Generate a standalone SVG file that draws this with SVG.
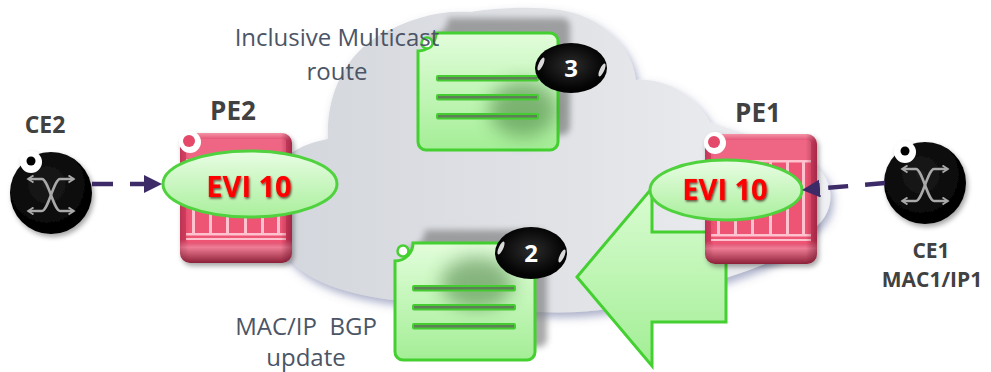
<svg xmlns="http://www.w3.org/2000/svg" xmlns:xlink="http://www.w3.org/1999/xlink" width="991" height="372" viewBox="0 0 991 372">
  <style>
    .lbl { font-family: "Open Sans", "Noto Sans", "Liberation Sans", sans-serif; font-weight: 700; fill: #414141; text-anchor: middle; }
    .cap { font-family: "Open Sans", "Noto Sans", "Liberation Sans", sans-serif; font-weight: 400; fill: #4b5566; text-anchor: middle; font-size: 24px; }
    .evi { font-family: "Open Sans", "Noto Sans", "Liberation Sans", sans-serif; font-weight: 700; fill: #ff0000; text-anchor: middle; font-size: 29px; }
    .num { font-family: "Open Sans", "Noto Sans", "Liberation Sans", sans-serif; font-weight: 700; fill: #ffffff; text-anchor: middle; font-size: 24px; }
    .evi-shape { fill: url(#eviFill); stroke: #4fd23d; stroke-width: 3; }
    .doc-line { fill: #5e7f58; stroke: #44cc30; stroke-width: 2; }
    .link { fill: none; stroke: #3d2b68; stroke-width: 4.5; }
    .glyph { fill: none; stroke: #a9a9a9; stroke-width: 2.6; stroke-linecap: round; stroke-linejoin: round; }
  </style>
  <defs>
    <linearGradient id="cloudFill" x1="0" y1="0" x2="1" y2="0">
      <stop offset="0" stop-color="#d3d6dc"/>
      <stop offset="0.55" stop-color="#e1e3e7"/>
      <stop offset="1" stop-color="#eff0f3"/>
    </linearGradient>
    <linearGradient id="eviFill" x1="0" y1="0" x2="0" y2="1">
      <stop offset="0" stop-color="#e9fde4"/>
      <stop offset="1" stop-color="#a9ef9c"/>
    </linearGradient>
    <linearGradient id="docFill" x1="0" y1="0" x2="0" y2="1">
      <stop offset="0" stop-color="#e2fddb"/>
      <stop offset="1" stop-color="#a4ee96"/>
    </linearGradient>
    <linearGradient id="bigArrowFill" x1="0" y1="0" x2="0" y2="1">
      <stop offset="0" stop-color="#dafcd2"/>
      <stop offset="1" stop-color="#a2ee95"/>
    </linearGradient>
    <linearGradient id="pinkBody" x1="0" y1="0" x2="0" y2="1">
      <stop offset="0" stop-color="#f493a6"/>
      <stop offset="0.06" stop-color="#e0446a"/>
      <stop offset="0.82" stop-color="#d83e60"/>
      <stop offset="0.88" stop-color="#ef7c95"/>
      <stop offset="1" stop-color="#8c2038"/>
    </linearGradient>
    <linearGradient id="pinkSide" x1="0" y1="0" x2="1" y2="0">
      <stop offset="0" stop-color="#6a1028" stop-opacity="0.25"/>
      <stop offset="0.08" stop-color="#6a1028" stop-opacity="0"/>
      <stop offset="0.9" stop-color="#6a1028" stop-opacity="0"/>
      <stop offset="1" stop-color="#6a1028" stop-opacity="0.5"/>
    </linearGradient>
    <radialGradient id="badgeFill" cx="0.5" cy="0.45" r="0.6">
      <stop offset="0" stop-color="#2c2c2c"/>
      <stop offset="0.75" stop-color="#050505"/>
      <stop offset="1" stop-color="#000"/>
    </radialGradient>
    <radialGradient id="ceFill" cx="0.45" cy="0.4" r="0.6">
      <stop offset="0" stop-color="#1c1c1c"/>
      <stop offset="1" stop-color="#000"/>
    </radialGradient>

    <filter id="dropShadow" x="-20%" y="-20%" width="150%" height="150%">
      <feDropShadow dx="2" dy="3" stdDeviation="2.5" flood-color="#000" flood-opacity="0.35"/>
    </filter>
    <filter id="cloudShadow" x="-10%" y="-10%" width="125%" height="130%">
      <feDropShadow dx="3" dy="5" stdDeviation="4" flood-color="#5a6496" flood-opacity="0.5"/>
    </filter>
    <filter id="textShadow" x="-10%" y="-20%" width="130%" height="150%">
      <feDropShadow dx="1" dy="1.5" stdDeviation="0.8" flood-color="#300" flood-opacity="0.7"/>
    </filter>
    <filter id="soft3" x="-20%" y="-20%" width="140%" height="140%">
      <feGaussianBlur stdDeviation="3"/>
    </filter>
    <filter id="soft8" x="-50%" y="-50%" width="200%" height="200%">
      <feGaussianBlur stdDeviation="9"/>
    </filter>

    <marker id="arrowHead" viewBox="0 0 10 10" refX="0" refY="5" markerWidth="18" markerHeight="18" markerUnits="userSpaceOnUse" orient="auto">
      <path d="M0,0 L10,5 L0,10 Z" fill="#3d2b68"/>
    </marker>
    <marker id="chev" viewBox="0 0 10 10" refX="6" refY="5" markerWidth="9" markerHeight="9" markerUnits="userSpaceOnUse" orient="auto-start-reverse">
      <path d="M1,1 L7,5 L1,9" fill="none" stroke="#a9a9a9" stroke-width="2"/>
    </marker>

    <!-- route document sheet with a scooped top-left corner -->
    <path id="docPath" d="M0,18 A18,18 0 0 0 18,0 H132 A8,8 0 0 1 140,8 V109 A8,8 0 0 1 132,117 H8 A8,8 0 0 1 0,109 Z"/>

    <!-- provider edge router body -->
    <g id="peBody">
      <rect x="0" y="0" width="112" height="130" rx="10" fill="url(#pinkBody)"/>
      <rect x="6" y="6" width="100" height="104" rx="3" fill="#ee5474"/>
      <rect x="6" y="6" width="100" height="21" rx="3" fill="#ee6683"/>
      <rect x="6" y="26" width="100" height="2.5" fill="#ffc2ce"/>
      <g fill="#ffc2ce">
        <rect x="12" y="28" width="3" height="72"/>
        <rect x="29" y="28" width="3" height="72"/>
        <rect x="46" y="28" width="3" height="72"/>
        <rect x="64" y="28" width="3" height="72"/>
        <rect x="81" y="28" width="3" height="72"/>
        <rect x="97" y="28" width="3" height="72"/>
        <rect x="6" y="100" width="100" height="2.5"/>
        <rect x="6" y="105" width="100" height="2"/>
      </g>
      <rect x="0" y="0" width="112" height="130" rx="10" fill="url(#pinkSide)"/>
      <circle cx="10" cy="9" r="11" fill="#ffffff"/>
      <circle cx="9" cy="8" r="6" fill="#e4486a"/>
    </g>

    <!-- customer edge switch -->
    <g id="ceBody">
      <circle cx="0" cy="0" r="41" fill="url(#ceFill)"/>
      <path class="glyph" d="M-22,-14 H-9 C-3,-14 3,18 9,18 H22" marker-start="url(#chev)" marker-end="url(#chev)"/>
      <path class="glyph" d="M22,-14 H9 C3,-14 -3,18 -9,18 H-22" marker-start="url(#chev)" marker-end="url(#chev)"/>
      <circle cx="-20" cy="-31" r="11" fill="#ffffff"/>
      <circle cx="-20" cy="-32" r="4.5" fill="#000"/>
    </g>
  </defs>

  <rect width="991" height="372" fill="#ffffff"/>

  <!-- provider network cloud -->
  <g id="cloud">
    <path filter="url(#cloudShadow)" fill="url(#cloudFill)" d="M292,262 C262,240 262,170 296,150 C306,144 318,141 328,139 C326,95 345,55 380,35 C410,18 440,10 470,12 C500,8 530,6 560,10 C600,16 632,45 636,80 C665,78 695,95 710,122 C760,140 800,150 820,170 C838,190 832,220 808,232 C790,262 740,272 700,287 C660,302 600,315 540,312 C480,314 420,305 393,300 C350,295 310,282 292,262 Z"/>
  </g>

  <!-- inclusive multicast route sheet -->
  <g id="doc-3" transform="translate(418,33)">
    <use xlink:href="#docPath" transform="translate(12,-15)" fill="#7a7a7a" opacity="0.65" filter="url(#soft3)"/>
    <use xlink:href="#docPath" fill="url(#docFill)" stroke="#44d030" stroke-width="3"/>
    <ellipse cx="105" cy="76" rx="34" ry="28" fill="#2f6526" opacity="0.45" filter="url(#soft8)"/>
    <rect class="doc-line" x="19" y="43" width="101" height="4.5" rx="1"/>
    <rect class="doc-line" x="19" y="62" width="101" height="4.5" rx="1"/>
    <rect class="doc-line" x="19" y="81" width="101" height="4.5" rx="1"/>
    <circle cx="9" cy="10" r="5.5" fill="#ffffff" stroke="#44d030" stroke-width="2.5"/>
  </g>
  <g id="badge-3">
    <ellipse cx="571" cy="68" rx="36" ry="25" fill="url(#badgeFill)"/>
    <ellipse cx="541" cy="64" rx="2.2" ry="7" transform="rotate(25 541 64)" fill="#fff" opacity="0.85"/>
    <ellipse cx="602" cy="70" rx="2.2" ry="7" transform="rotate(25 602 70)" fill="#fff" opacity="0.85"/>
    <text class="num" x="571" y="76.5">3</text>
  </g>

  <!-- PE2 -->
  <g id="pe2">
    <use xlink:href="#peBody" x="180" y="133" filter="url(#dropShadow)"/>
    <ellipse class="evi-shape" cx="250" cy="184" rx="87" ry="33"/>
    <text class="evi" x="249" y="197" filter="url(#textShadow)">EVI 10</text>
    <text class="lbl" x="233" y="120" font-size="26">PE2</text>
  </g>

  <!-- CE2 -->
  <g id="ce2">
    <use xlink:href="#ceBody" x="51" y="193" filter="url(#dropShadow)"/>
    <text class="lbl" x="45" y="133" font-size="23">CE2</text>
  </g>

  <!-- route advertisement arrow -->
  <g id="advert-arrow">
    <polygon points="577,277 652,188 652,232 726,232 726,322 652,322 652,366" fill="url(#bigArrowFill)" stroke="#45d032" stroke-width="3" stroke-linejoin="miter"/>
  </g>

  <!-- PE1 -->
  <g id="pe1">
    <use xlink:href="#peBody" x="705" y="134" filter="url(#dropShadow)"/>
    <ellipse class="evi-shape" cx="726" cy="190" rx="76" ry="30"/>
    <text class="evi" x="725" y="200" filter="url(#textShadow)">EVI 10</text>
    <text class="lbl" x="758" y="122" font-size="26">PE1</text>
  </g>

  <!-- CE1 -->
  <g id="ce1">
    <use xlink:href="#ceBody" x="925" y="183" filter="url(#dropShadow)"/>
    <text class="lbl" font-size="21"><tspan x="931" y="258">CE1</tspan><tspan x="932" y="287">MAC1/IP1</tspan></text>
  </g>

  <!-- MAC/IP route sheet -->
  <g id="doc-2" transform="translate(395,243)">
    <use xlink:href="#docPath" transform="translate(12,-13)" fill="#7a7a7a" opacity="0.65" filter="url(#soft3)"/>
    <use xlink:href="#docPath" fill="url(#docFill)" stroke="#44d030" stroke-width="3"/>
    <ellipse cx="82" cy="40" rx="36" ry="26" fill="#2f6526" opacity="0.45" filter="url(#soft8)"/>
    <rect class="doc-line" x="18" y="43" width="102" height="4.5" rx="1"/>
    <rect class="doc-line" x="18" y="62" width="102" height="4.5" rx="1"/>
    <rect class="doc-line" x="18" y="81" width="102" height="4.5" rx="1"/>
    <circle cx="8" cy="8" r="5.5" fill="#ffffff" stroke="#44d030" stroke-width="2.5"/>
  </g>
  <g id="badge-2">
    <ellipse cx="531" cy="253" rx="36" ry="26" fill="url(#badgeFill)"/>
    <ellipse cx="501" cy="248" rx="2.2" ry="7" transform="rotate(25 501 248)" fill="#fff" opacity="0.85"/>
    <ellipse cx="562" cy="256" rx="2.2" ry="7" transform="rotate(25 562 256)" fill="#fff" opacity="0.85"/>
    <text class="num" x="531" y="261.5">2</text>
  </g>

  <!-- attachment circuits -->
  <g id="connectors">
    <path class="link" d="M92,184 H144" stroke-dasharray="21 17" marker-end="url(#arrowHead)"/>
    <path class="link" d="M885,183 L820,188.5" stroke-dasharray="20 17" marker-end="url(#arrowHead)"/>
  </g>

  <!-- captions -->
  <g id="captions">
    <text class="cap" x="337" y="46">Inclusive Multicast</text>
    <text class="cap" x="337" y="80">route</text>
    <text class="cap" x="306" y="335" xml:space="preserve">MAC/IP  BGP</text>
    <text class="cap" x="306" y="366">update</text>
  </g>
</svg>
